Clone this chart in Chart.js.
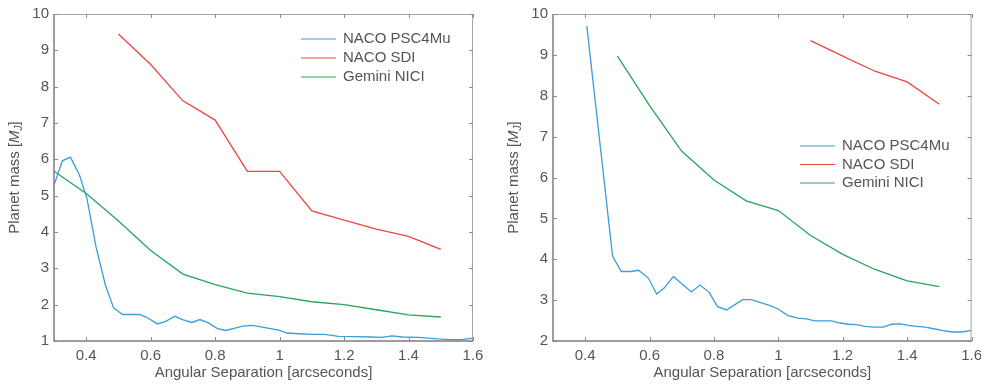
<!DOCTYPE html>
<html>
<head>
<meta charset="utf-8">
<script src="https://cdn.jsdelivr.net/npm/chart.js@4.4.1/dist/chart.umd.min.js"></script>
<style>
  body { margin: 0; background: #fff; overflow: hidden; }
  #wrap { position: relative; width: 981px; height: 385px; overflow: hidden; }
  #c1 { position: absolute; left: 0; top: 0; }
  #c2 { position: absolute; left: 490px; top: 0; }
</style>
</head>
<body>
<div id="wrap">
  <canvas id="c1" width="490" height="385"></canvas>
  <canvas id="c2" width="498" height="385"></canvas>
</div>
<script>
// ticks
const xTicks = [0.4, 0.6, 0.8, 1, 1.2, 1.4, 1.6];
const leftYTicks = [1, 2, 3, 4, 5, 6, 7, 8, 9, 10];
const rightYTicks = [2, 3, 4, 5, 6, 7, 8, 9, 10];
const seriesNames = ['NACO PSC4Mu', 'NACO SDI', 'Gemini NICI'];
const seriesColors = ['#3b9ddb', '#ee4444', '#26a65b'];

// left panel
const leftPscX = [0.30, 0.326, 0.351, 0.379, 0.402, 0.431, 0.46, 0.485, 0.513, 0.564, 0.586, 0.621, 0.647, 0.675, 0.699, 0.728, 0.753, 0.779, 0.807, 0.833, 0.859, 0.885, 0.915, 0.946, 0.972, 1.0, 1.023, 1.06, 1.1, 1.14, 1.183, 1.235, 1.286, 1.317, 1.348, 1.38, 1.43, 1.49, 1.533, 1.564, 1.6];
const leftPscY = [5.29, 5.96, 6.06, 5.57, 4.93, 3.56, 2.52, 1.91, 1.73, 1.73, 1.66, 1.47, 1.54, 1.68, 1.59, 1.51, 1.59, 1.50, 1.34, 1.29, 1.35, 1.41, 1.43, 1.38, 1.34, 1.29, 1.22, 1.20, 1.18, 1.18, 1.13, 1.12, 1.11, 1.10, 1.14, 1.11, 1.10, 1.06, 1.04, 1.04, 1.08];
const leftSdiX = [0.5, 0.6, 0.7, 0.8, 0.9, 1.0, 1.1, 1.2, 1.3, 1.4, 1.5];
const leftSdiY = [9.45, 8.61, 7.61, 7.08, 5.67, 5.67, 4.58, 4.33, 4.08, 3.88, 3.52];
const leftNiciX = [0.3, 0.4, 0.5, 0.6, 0.7, 0.8, 0.9, 1.0, 1.1, 1.2, 1.3, 1.4, 1.5];
const leftNiciY = [5.67, 5.06, 4.30, 3.49, 2.84, 2.55, 2.32, 2.22, 2.08, 2.0, 1.86, 1.72, 1.66];

// right panel
const rightPscX = [0.405, 0.485, 0.512, 0.54, 0.566, 0.596, 0.622, 0.647, 0.674, 0.702, 0.73, 0.757, 0.785, 0.811, 0.839, 0.865, 0.889, 0.915, 0.941, 0.972, 0.998, 1.03, 1.061, 1.087, 1.113, 1.139, 1.165, 1.191, 1.217, 1.243, 1.269, 1.295, 1.326, 1.352, 1.378, 1.404, 1.43, 1.456, 1.482, 1.508, 1.539, 1.57, 1.6];
const rightPscY = [9.71, 4.08, 3.70, 3.70, 3.73, 3.54, 3.15, 3.31, 3.58, 3.39, 3.20, 3.37, 3.19, 2.84, 2.76, 2.89, 3.01, 3.01, 2.95, 2.87, 2.79, 2.62, 2.56, 2.54, 2.49, 2.49, 2.49, 2.44, 2.41, 2.40, 2.36, 2.34, 2.34, 2.41, 2.42, 2.38, 2.36, 2.34, 2.30, 2.26, 2.22, 2.22, 2.26];
const rightSdiX = [1.1, 1.2, 1.3, 1.4, 1.5];
const rightSdiY = [9.35, 8.97, 8.60, 8.34, 7.79];
const rightNiciX = [0.5, 0.6, 0.7, 0.8, 0.9, 1.0, 1.1, 1.2, 1.3, 1.4, 1.5];
const rightNiciY = [8.97, 7.76, 6.64, 5.94, 5.43, 5.19, 4.58, 4.12, 3.75, 3.47, 3.33];

const FONT = "'Liberation Sans', Arial, Helvetica, sans-serif";
const TEXT = '#555555';

function pts(xs, ys) {
  return xs.map((x, i) => ({ x: x, y: ys[i] }));
}

// frame with inward ticks, legend inside the plot, y title with subscript
const deco = {
  id: 'deco',
  afterDraw(chart, args, opts) {
    const ctx = chart.ctx;
    const a = chart.chartArea;
    const xs = chart.scales.x, ys = chart.scales.y;
    ctx.save();

    ctx.lineWidth = 1;
    ctx.strokeStyle = '#a6a6a6';
    ctx.beginPath();
    ctx.moveTo(a.left, a.top + 0.5); ctx.lineTo(a.right, a.top + 0.5);
    ctx.moveTo(a.right - 0.5, a.top); ctx.lineTo(a.right - 0.5, a.bottom);
    ctx.stroke();
    ctx.lineWidth = 1.5;
    ctx.strokeStyle = '#7d7d7d';
    ctx.beginPath();
    ctx.moveTo(a.left, a.top); ctx.lineTo(a.left, a.bottom);
    ctx.lineTo(a.right, a.bottom);
    ctx.stroke();

    ctx.lineWidth = 1;
    ctx.strokeStyle = '#8a8a8a';
    ctx.beginPath();
    xTicks.forEach(v => {
      const p = Math.round(xs.getPixelForValue(v)) + 0.5;
      ctx.moveTo(p, a.bottom); ctx.lineTo(p, a.bottom - 4);
      ctx.moveTo(p, a.top); ctx.lineTo(p, a.top + 4);
    });
    opts.yTicks.forEach(v => {
      const p = Math.round(ys.getPixelForValue(v)) + 0.5;
      ctx.moveTo(a.left, p); ctx.lineTo(a.left + 4, p);
      ctx.moveTo(a.right, p); ctx.lineTo(a.right - 4, p);
    });
    ctx.stroke();

    // legend
    ctx.font = '15px ' + FONT;
    ctx.textBaseline = 'middle';
    ctx.textAlign = 'left';
    chart.data.datasets.forEach((ds, i) => {
      const y = opts.legendY + i * opts.legendGap;
      ctx.strokeStyle = ds.borderColor;
      ctx.lineWidth = 1.2;
      ctx.beginPath();
      ctx.moveTo(opts.legendX, y); ctx.lineTo(opts.legendX + 35, y);
      ctx.stroke();
      ctx.fillStyle = TEXT;
      ctx.fillText(ds.label, opts.legendX + 42, y);
    });

    // y title: Planet mass [M_J]
    const cx = a.left - 39, cy = (a.top + a.bottom) / 2;
    ctx.translate(cx, cy);
    ctx.rotate(-Math.PI / 2);
    const parts = [
      { t: 'Planet mass [', f: '15px ' + FONT, dy: 0 },
      { t: 'M', f: 'italic 15px ' + FONT, dy: 0 },
      { t: 'J', f: 'italic 10px ' + FONT, dy: 4 },
      { t: ']', f: '15px ' + FONT, dy: 0 }
    ];
    let w = 0;
    parts.forEach(p => { ctx.font = p.f; w += ctx.measureText(p.t).width; });
    let x = -w / 2;
    ctx.fillStyle = TEXT;
    parts.forEach(p => {
      ctx.font = p.f;
      ctx.fillText(p.t, x, p.dy);
      x += ctx.measureText(p.t).width;
    });
    ctx.restore();
  }
};

function makeChart(id, sets, yMin, yTicks, leftW, rightPad, legend) {
  return new Chart(document.getElementById(id), {
    type: 'line',
    data: {
      datasets: sets.map((s, i) => ({
        label: seriesNames[i],
        data: s,
        borderColor: seriesColors[i],
        borderWidth: 1.3,
        pointRadius: 0,
        fill: false,
        tension: 0
      }))
    },
    options: {
      responsive: false,
      animation: false,
      layout: { padding: { left: 0, top: 11, right: rightPad, bottom: 0 } },
      plugins: {
        legend: { display: false },
        tooltip: { enabled: false },
        deco: { yTicks: yTicks, legendX: legend[0], legendY: legend[1], legendGap: legend[2] }
      },
      scales: {
        x: {
          type: 'linear',
          min: 0.3, max: 1.6,
          afterBuildTicks: s => { s.ticks = xTicks.map(v => ({ value: v })); },
          afterFit: s => { s.height = 44; },
          grid: { display: false, drawTicks: false },
          border: { display: false },
          ticks: {
            padding: 6,
            color: TEXT,
            font: { family: FONT, size: 15 },
            maxRotation: 0,
            callback: v => String(v)
          },
          title: {
            display: true,
            text: 'Angular Separation [arcseconds]',
            color: TEXT,
            font: { family: FONT, size: 15 },
            padding: { top: 0, bottom: 3 }
          }
        },
        y: {
          min: yMin, max: 10,
          afterBuildTicks: s => { s.ticks = yTicks.map(v => ({ value: v })); },
          afterFit: s => { s.width = leftW; },
          grid: { display: false, drawTicks: false },
          border: { display: false },
          ticks: {
            padding: 5,
            color: TEXT,
            font: { family: FONT, size: 15 }
          }
        }
      }
    },
    plugins: [deco]
  });
}

makeChart('c1',
  [pts(leftPscX, leftPscY), pts(leftSdiX, leftSdiY), pts(leftNiciX, leftNiciY)],
  1, leftYTicks, 54, 17, [301, 39, 19]);

makeChart('c2',
  [pts(rightPscX, rightPscY), pts(rightSdiX, rightSdiY), pts(rightNiciX, rightNiciY)],
  2, rightYTicks, 63, 3, [310, 146, 18.5]);
</script>
</body>
</html>
